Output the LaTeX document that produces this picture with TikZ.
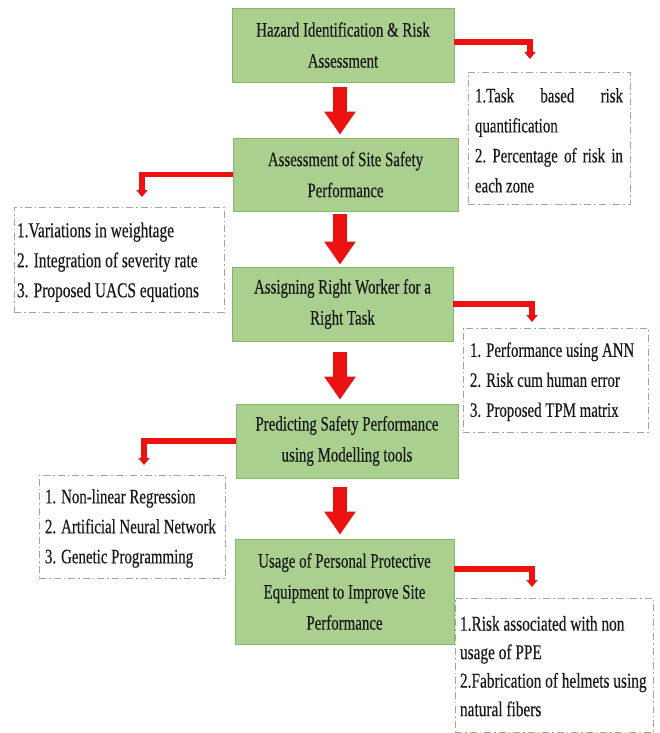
\documentclass[tikz,border=0pt]{standalone}
\usepackage{fontspec}
\setmainfont{Liberation Serif}[FakeStretch=0.727,FakeBold=0.3]
\usetikzlibrary{arrows.meta}
\definecolor{gfill}{RGB}{169,208,142}
\definecolor{gline}{RGB}{138,182,108}
\definecolor{cred}{RGB}{236,18,18}
\definecolor{dline}{RGB}{160,168,150}
\definecolor{txt}{RGB}{25,25,25}
\newcommand{\myline}[1]{\mbox{#1}}
\newcommand{\myjust}[1]{\makebox[\linewidth][l]{#1}}
\begin{document}
\begin{tikzpicture}[x=1pt,y=-1pt,
  gbox/.style={draw=gline, line width=0.8pt, fill=gfill, text=txt, align=center, inner sep=0pt, font=\fontsize{20.5}{31}\selectfont},
  dbox/.style={draw=dline, line width=0.9pt, dash pattern=on 7pt off 3pt on 1.5pt off 3pt, align=flush left, text=txt, inner ysep=0pt},
  flow/.style={cred, line width=14pt, -{Triangle[width=30pt,length=23pt]}},
  side/.style={cred, line width=5.5pt, -{Triangle[width=11pt,length=7pt]}}
]
\useasboundingbox (0,0) rectangle (660,733);
\fill[white] (0,0) rectangle (660,733);
\coordinate (ax) at (340,0);
% main boxes
\node[gbox, minimum width=222pt, minimum height=74pt] (b1) at (343,45) {Hazard Identification \& Risk\\Assessment};
\node[gbox, minimum width=225pt, minimum height=73pt] (b2) at (345.5,174.5) {Assessment of Site Safety\\Performance};
\node[gbox, minimum width=221pt, minimum height=74pt] (b3) at (342.5,304) {Assigning Right Worker for a\\Right Task};
\node[gbox, minimum width=222pt, minimum height=74pt] (b4) at (347,441) {Predicting Safety Performance\\using Modelling tools};
\node[gbox, minimum width=219pt, minimum height=105pt] (b5) at (344.5,591.5) {Usage of Personal Protective\\Equipment to Improve Site\\Performance};
% side boxes
\node[dbox, font=\fontsize{20.5}{30}\selectfont, inner xsep=7pt, text width=148pt, minimum height=132pt] (d1) at (549,138)
  {\myjust{\rule{0pt}{19pt}1.Task\hfill based\hfill risk}\\\myline{quantification}\\\myjust{2.\hfill Percentage\hfill of\hfill risk\hfill in}\\\myline{each zone}};
\node[dbox, font=\fontsize{21.2}{30}\selectfont, inner xsep=3pt, text width=204pt, minimum height=105pt] (d2) at (119,259.5)
  {\myline{\rule{0pt}{20pt}1.Variations in weightage}\\\myline{2. Integration of severity rate}\\\myline{3. Proposed UACS equations}};
\node[dbox, font=\fontsize{20.5}{30}\selectfont, inner xsep=7pt, text width=171pt, minimum height=104pt] (d3) at (555.5,380)
  {\myline{\rule{0pt}{18pt}1. Performance using ANN}\\\myline{2. Risk cum human error}\\\myline{3. Proposed TPM matrix}};
\node[dbox, font=\fontsize{20.5}{30}\selectfont, inner xsep=6pt, text width=174pt, minimum height=103pt] (d4) at (132,526.5)
  {\myline{\rule{0pt}{18pt}1. Non-linear Regression}\\\myline{2. Artificial Neural Network}\\\myline{3. Genetic Programming}};
\node[dbox, font=\fontsize{21.1}{28.5}\selectfont, inner xsep=5pt, text width=188pt, minimum height=134pt] (d5) at (554,665)
  {\myline{\rule{0pt}{17pt}1.Risk associated with non}\\\myline{usage of PPE}\\\myline{2.Fabrication of helmets using}\\\myline{natural fibers}};
% flow arrows
\draw[flow, shorten <=5pt, shorten >=3pt] (b1.south -| ax) -- (b2.north -| ax);
\draw[flow, shorten <=3pt, shorten >=2pt] (b2.south -| ax) -- (b3.north -| ax);
\draw[flow, shorten <=11pt, shorten >=4pt] (b3.south -| ax) -- (b4.north -| ax);
\draw[flow, shorten <=9pt, shorten >=4pt] (b4.south -| ax) -- (b5.north -| ax);
% side connectors
\coordinate (c1) at (530,59);
\coordinate (c2) at (142,197);
\coordinate (c3) at (532,322);
\coordinate (c4) at (144,465);
\coordinate (c5) at (532,587);
\draw[side] ([yshift=3pt]b1.east) -| (c1);
\draw[side] (b2.west) -| (c2);
\draw[side] (b3.east) -| (c3);
\draw[side] (b4.west) -| (c4);
\draw[side] ([yshift=22.5pt]b5.east) -| (c5);
\end{tikzpicture}
\end{document}
